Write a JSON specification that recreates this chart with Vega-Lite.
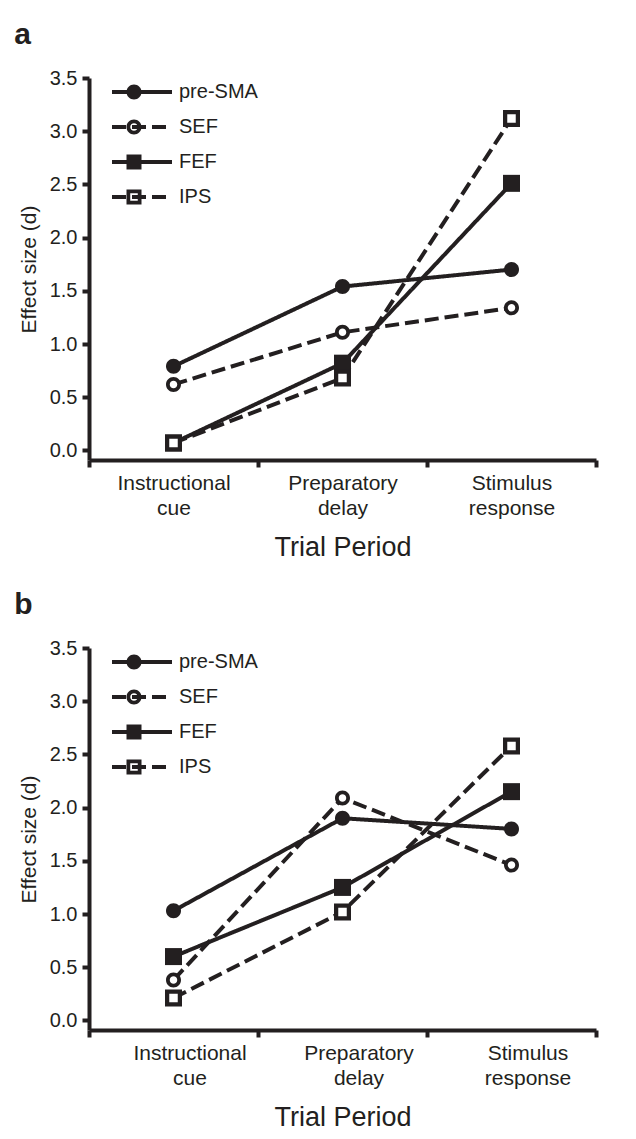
{
  "$schema": "https://vega.github.io/schema/vega-lite/v6.json",
  "background": "white",
  "padding": {"left": 14, "top": 20, "right": 5, "bottom": 5},
  "spacing": 30,
  "resolve": {
    "scale": {"shape": "independent", "strokeDash": "independent"}
  },
  "datasets": {
    "effects": [
      {"panel": "a", "period": "Instructional cue", "region": "pre-SMA", "d": 0.79},
      {"panel": "a", "period": "Preparatory delay", "region": "pre-SMA", "d": 1.54},
      {"panel": "a", "period": "Stimulus response", "region": "pre-SMA", "d": 1.70},
      {"panel": "a", "period": "Instructional cue", "region": "SEF", "d": 0.62},
      {"panel": "a", "period": "Preparatory delay", "region": "SEF", "d": 1.11},
      {"panel": "a", "period": "Stimulus response", "region": "SEF", "d": 1.34},
      {"panel": "a", "period": "Instructional cue", "region": "FEF", "d": 0.07},
      {"panel": "a", "period": "Preparatory delay", "region": "FEF", "d": 0.82},
      {"panel": "a", "period": "Stimulus response", "region": "FEF", "d": 2.51},
      {"panel": "a", "period": "Instructional cue", "region": "IPS", "d": 0.07},
      {"panel": "a", "period": "Preparatory delay", "region": "IPS", "d": 0.68},
      {"panel": "a", "period": "Stimulus response", "region": "IPS", "d": 3.12},
      {"panel": "b", "period": "Instructional cue", "region": "pre-SMA", "d": 1.03},
      {"panel": "b", "period": "Preparatory delay", "region": "pre-SMA", "d": 1.90},
      {"panel": "b", "period": "Stimulus response", "region": "pre-SMA", "d": 1.80},
      {"panel": "b", "period": "Instructional cue", "region": "SEF", "d": 0.38},
      {"panel": "b", "period": "Preparatory delay", "region": "SEF", "d": 2.09},
      {"panel": "b", "period": "Stimulus response", "region": "SEF", "d": 1.46},
      {"panel": "b", "period": "Instructional cue", "region": "FEF", "d": 0.60},
      {"panel": "b", "period": "Preparatory delay", "region": "FEF", "d": 1.25},
      {"panel": "b", "period": "Stimulus response", "region": "FEF", "d": 2.15},
      {"panel": "b", "period": "Instructional cue", "region": "IPS", "d": 0.21},
      {"panel": "b", "period": "Preparatory delay", "region": "IPS", "d": 1.02},
      {"panel": "b", "period": "Stimulus response", "region": "IPS", "d": 2.58}
    ]
  },
  "config": {
    "font": "Liberation Sans",
    "view": {"stroke": null},
    "axis": {
      "labelFont": "Liberation Sans",
      "titleFont": "Liberation Sans",
      "labelColor": "#231f20",
      "titleColor": "#231f20",
      "domainColor": "#231f20",
      "tickColor": "#231f20",
      "domainWidth": 4,
      "tickWidth": 4,
      "tickSize": 7,
      "grid": false,
      "titleFontWeight": "normal"
    },
    "legend": {
      "labelFont": "Liberation Sans",
      "labelColor": "#231f20",
      "labelFontSize": 20,
      "padding": 0,
      "rowPadding": 15,
      "title": null
    },
    "title": {"font": "Liberation Sans", "color": "#231f20", "fontSize": 30, "fontWeight": "bold", "anchor": "start", "frame": "bounds"}
  },
  "vconcat": [
    {
      "title": {"text": "a", "offset": 18, "dx": -4},
      "data": {"name": "effects"},
      "transform": [{"filter": "datum.panel === 'a'"}],
      "width": 507,
      "height": 382,
      "encoding": {
        "x": {
          "field": "period", "type": "nominal",
          "sort": ["Instructional cue", "Preparatory delay", "Stimulus response"],
          "scale": {"paddingInner": 0, "paddingOuter": 0},
          "axis": {"title": "Trial Period", "labelAngle": 0, "tickBand": "extent", "labelExpr": "split(datum.label, ' ')", "labelFontSize": 21, "labelLineHeight": 25, "labelPadding": 5, "labelBaseline": "top", "titleFontSize": 27, "titlePadding": 16}
        },
        "y": {
          "field": "d", "type": "quantitative",
          "scale": {"domain": [-0.09, 3.5], "nice": false, "zero": false},
          "axis": {"title": "Effect size (d)", "values": [0, 0.5, 1, 1.5, 2, 2.5, 3, 3.5], "format": ".1f", "labelFontSize": 20, "titleFontSize": 21, "labelPadding": 5, "titlePadding": 10}
        }
      },
      "layer": [
        {
          "mark": {"type": "line", "strokeWidth": 4, "color": "#231f20"},
          "encoding": {
            "strokeDash": {
              "field": "region", "type": "nominal",
              "sort": ["pre-SMA", "SEF", "FEF", "IPS"],
              "scale": {"range": [[1, 0], [14, 6], [1, 0], [14, 6]]},
              "legend": {"orient": "none", "legendX": 43, "legendY": 4, "rowPadding": 15, "symbolType": "M -6 0 L 6 0", "symbolSize": 100, "symbolStrokeWidth": 4, "symbolStrokeColor": "#231f20", "labelExpr": "' '", "zindex": 0}
            }
          }
        },
        {
          "transform": [{"filter": {"field": "region", "equal": "SEF"}}],
          "mark": {"type": "point", "shape": "circle", "filled": true, "size": 120, "color": "white", "opacity": 1}
        },
        {
          "transform": [{"filter": {"field": "region", "oneOf": ["pre-SMA", "SEF"]}}],
          "mark": {"type": "point", "filled": true, "size": 225, "color": "#231f20", "opacity": 1},
          "encoding": {
            "shape": {"field": "region", "type": "nominal",
              "scale": {"domain": ["pre-SMA", "SEF", "FEF", "IPS"], "range": [
                "M 1 0 C 1 0.5523 0.5523 1 0 1 C -0.5523 1 -1 0.5523 -1 0 C -1 -0.5523 -0.5523 -1 0 -1 C 0.5523 -1 1 -0.5523 1 0 Z",
                "M 1 0 C 1 0.5523 0.5523 1 0 1 C -0.5523 1 -1 0.5523 -1 0 C -1 -0.5523 -0.5523 -1 0 -1 C 0.5523 -1 1 -0.5523 1 0 Z M 0.5 0 C 0.5 -0.2762 0.2762 -0.5 0 -0.5 C -0.2762 -0.5 -0.5 -0.2762 -0.5 0 C -0.5 0.2762 -0.2762 0.5 0 0.5 C 0.2762 0.5 0.5 0.2762 0.5 0 Z",
                "square",
                "M -1 -1 L 1 -1 L 1 1 L -1 1 Z M -0.5 -0.5 L -0.5 0.5 L 0.5 0.5 L 0.5 -0.5 Z"
              ]},
              "legend": {"orient": "none", "legendX": 35, "legendY": 4, "rowPadding": 15, "symbolSize": 225, "symbolFillColor": "#231f20", "symbolStrokeWidth": 0, "labelOffset": 35, "zindex": 1}}
          }
        },
        {
          "transform": [{"filter": {"field": "region", "equal": "FEF"}}],
          "mark": {"type": "point", "filled": true, "size": 289, "color": "#231f20", "opacity": 1},
          "encoding": {
            "shape": {"field": "region", "type": "nominal",
              "legend": {"orient": "none", "legendX": 35, "legendY": 4, "rowPadding": 15, "symbolSize": 225, "symbolFillColor": "#231f20", "symbolStrokeWidth": 0, "labelOffset": 35, "zindex": 1}}
          }
        },
        {
          "transform": [{"filter": {"field": "region", "equal": "IPS"}}],
          "mark": {"type": "point", "shape": "square", "filled": true, "size": 196, "color": "white", "opacity": 1}
        },
        {
          "transform": [{"filter": {"field": "region", "equal": "IPS"}}],
          "mark": {"type": "point", "filled": true, "size": 289, "color": "#231f20", "opacity": 1},
          "encoding": {
            "shape": {"field": "region", "type": "nominal",
              "legend": {"orient": "none", "legendX": 35, "legendY": 4, "rowPadding": 15, "symbolSize": 225, "symbolFillColor": "#231f20", "symbolStrokeWidth": 0, "labelOffset": 35, "zindex": 1}}
          }
        }
      ]
    },
    {
      "title": {"text": "b", "offset": 18, "dx": -4},
      "data": {"name": "effects"},
      "transform": [{"filter": "datum.panel === 'b'"}],
      "width": 507,
      "height": 382,
      "encoding": {
        "x": {
          "field": "period", "type": "nominal",
          "sort": ["Instructional cue", "Preparatory delay", "Stimulus response"],
          "scale": {"paddingInner": 0, "paddingOuter": 0},
          "axis": {"title": "Trial Period", "labelAngle": 0, "tickBand": "extent", "labelExpr": "split(datum.label, ' ')", "labelFontSize": 21, "labelLineHeight": 25, "labelPadding": 5, "labelOffset": 16, "labelBaseline": "top", "titleFontSize": 27, "titlePadding": 16}
        },
        "y": {
          "field": "d", "type": "quantitative",
          "scale": {"domain": [-0.09, 3.5], "nice": false, "zero": false},
          "axis": {"title": "Effect size (d)", "values": [0, 0.5, 1, 1.5, 2, 2.5, 3, 3.5], "format": ".1f", "labelFontSize": 20, "titleFontSize": 21, "labelPadding": 5, "titlePadding": 10}
        }
      },
      "layer": [
        {
          "mark": {"type": "line", "strokeWidth": 4, "color": "#231f20"},
          "encoding": {
            "strokeDash": {
              "field": "region", "type": "nominal",
              "sort": ["pre-SMA", "SEF", "FEF", "IPS"],
              "scale": {"range": [[1, 0], [14, 6], [1, 0], [14, 6]]},
              "legend": {"orient": "none", "legendX": 43, "legendY": 4, "rowPadding": 15, "symbolType": "M -6 0 L 6 0", "symbolSize": 100, "symbolStrokeWidth": 4, "symbolStrokeColor": "#231f20", "labelExpr": "' '", "zindex": 0}
            }
          }
        },
        {
          "transform": [{"filter": {"field": "region", "equal": "SEF"}}],
          "mark": {"type": "point", "shape": "circle", "filled": true, "size": 120, "color": "white", "opacity": 1}
        },
        {
          "transform": [{"filter": {"field": "region", "oneOf": ["pre-SMA", "SEF"]}}],
          "mark": {"type": "point", "filled": true, "size": 225, "color": "#231f20", "opacity": 1},
          "encoding": {
            "shape": {"field": "region", "type": "nominal",
              "scale": {"domain": ["pre-SMA", "SEF", "FEF", "IPS"], "range": [
                "M 1 0 C 1 0.5523 0.5523 1 0 1 C -0.5523 1 -1 0.5523 -1 0 C -1 -0.5523 -0.5523 -1 0 -1 C 0.5523 -1 1 -0.5523 1 0 Z",
                "M 1 0 C 1 0.5523 0.5523 1 0 1 C -0.5523 1 -1 0.5523 -1 0 C -1 -0.5523 -0.5523 -1 0 -1 C 0.5523 -1 1 -0.5523 1 0 Z M 0.5 0 C 0.5 -0.2762 0.2762 -0.5 0 -0.5 C -0.2762 -0.5 -0.5 -0.2762 -0.5 0 C -0.5 0.2762 -0.2762 0.5 0 0.5 C 0.2762 0.5 0.5 0.2762 0.5 0 Z",
                "square",
                "M -1 -1 L 1 -1 L 1 1 L -1 1 Z M -0.5 -0.5 L -0.5 0.5 L 0.5 0.5 L 0.5 -0.5 Z"
              ]},
              "legend": {"orient": "none", "legendX": 35, "legendY": 4, "rowPadding": 15, "symbolSize": 225, "symbolFillColor": "#231f20", "symbolStrokeWidth": 0, "labelOffset": 35, "zindex": 1}}
          }
        },
        {
          "transform": [{"filter": {"field": "region", "equal": "FEF"}}],
          "mark": {"type": "point", "filled": true, "size": 289, "color": "#231f20", "opacity": 1},
          "encoding": {
            "shape": {"field": "region", "type": "nominal",
              "legend": {"orient": "none", "legendX": 35, "legendY": 4, "rowPadding": 15, "symbolSize": 225, "symbolFillColor": "#231f20", "symbolStrokeWidth": 0, "labelOffset": 35, "zindex": 1}}
          }
        },
        {
          "transform": [{"filter": {"field": "region", "equal": "IPS"}}],
          "mark": {"type": "point", "shape": "square", "filled": true, "size": 196, "color": "white", "opacity": 1}
        },
        {
          "transform": [{"filter": {"field": "region", "equal": "IPS"}}],
          "mark": {"type": "point", "filled": true, "size": 289, "color": "#231f20", "opacity": 1},
          "encoding": {
            "shape": {"field": "region", "type": "nominal",
              "legend": {"orient": "none", "legendX": 35, "legendY": 4, "rowPadding": 15, "symbolSize": 225, "symbolFillColor": "#231f20", "symbolStrokeWidth": 0, "labelOffset": 35, "zindex": 1}}
          }
        }
      ]
    }
  ]
}
